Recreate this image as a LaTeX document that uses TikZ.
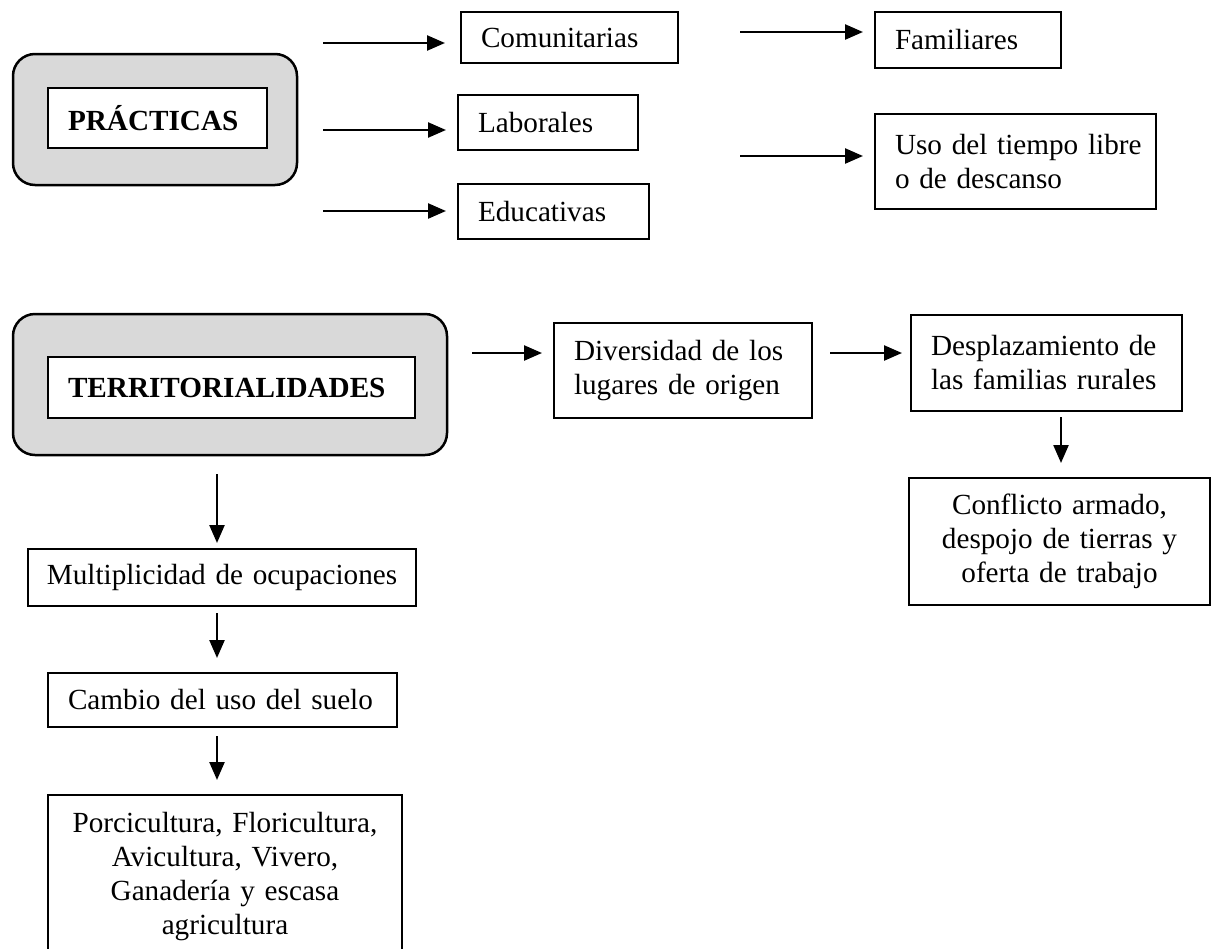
\documentclass[tikz,border=0pt]{standalone}
\usepackage{fontspec}
\setmainfont{Liberation Serif}
\usetikzlibrary{arrows.meta}

\definecolor{grismarco}{HTML}{D9D9D9}

\tikzset{
	marco/.style={draw, fill=grismarco, line width=2.5pt, rounded corners=22pt, inner sep=0pt, outer sep=0pt},
	caja/.style={draw, fill=white, line width=1.3pt, inner xsep=20pt, inner ysep=0pt, outer sep=0pt, anchor=north west, align=left},
	cajac/.style={caja, align=center},
	flecha/.style={line width=2.4pt, -{Triangle[length=18pt,width=15pt]}}
}

\begin{document}
\begin{tikzpicture}[x=1pt, y=-1pt, font=\fontsize{29.2}{34}\selectfont]
	\useasboundingbox (0,0) rectangle (1212,948);

	% marcos grises
	\node[marco, minimum width=284pt, minimum height=131pt] (marcoP) at (155,119.5) {};
	\node[marco, minimum width=434pt, minimum height=141pt] (marcoT) at (230,384.5) {};

	\node[caja, text width=179pt, minimum height=60pt] (practicas) at (48,88) {\textbf{PRÁCTICAS}};
	\node[caja, text width=327pt, minimum height=61pt] (territorio) at (48,357) {\textbf{TERRITORIALIDADES}};

	% practicas
	\node[caja, text width=177pt, minimum height=51pt] (comunitarias) at (461,12) {Comunitarias};
	\node[caja, text width=140pt, minimum height=55pt] (laborales) at (458,95) {Laborales};
	\node[caja, text width=151pt, minimum height=55pt] (educativas) at (458,184) {Educativas};
	\node[caja, text width=146pt, minimum height=56pt] (familiares) at (875,12) {Familiares};
	\node[caja, text width=241pt, minimum height=95pt] (tiempolibre) at (875,114) {\mbox{Uso del tiempo libre}\\o de descanso};

	% territorialidades
	\node[caja, text width=218pt, minimum height=95pt] (diversidad) at (554,323) {\mbox{Diversidad de los}\\lugares de origen};
	\node[caja, text width=231pt, minimum height=96pt] (desplazamiento) at (911,315) {\mbox{Desplazamiento de}\\las familias rurales};
	\node[cajac, text width=261pt, minimum height=127pt] (conflicto) at (909,478) {Conflicto armado,\\despojo de tierras y\\oferta de trabajo};
	\node[cajac, text width=388pt, inner xsep=0pt, minimum height=57pt] (ocupaciones) at (28,549) {Multiplicidad de ocupaciones};
	\node[caja, text width=309pt, minimum height=54pt] (suelo) at (48,673) {Cambio del uso del suelo};
	\node[cajac, text width=314pt, inner ysep=17pt] (actividades) at (48,795) {Porcicultura, Floricultura,\\Avicultura, Vivero,\\Ganadería y escasa\\agricultura};

	% flechas
	\coordinate (s1) at (323,43);   \coordinate (e1) at (445,43);
	\coordinate (s2) at (323,130);  \coordinate (e2) at (446,130);
	\coordinate (s3) at (323,211);  \coordinate (e3) at (446,211);
	\coordinate (s4) at (740,32);   \coordinate (e4) at (863,32);
	\coordinate (s5) at (740,156);  \coordinate (e5) at (863,156);
	\coordinate (s6) at (472,353);  \coordinate (e6) at (542,353);
	\coordinate (s7) at (830,353);  \coordinate (e7) at (902,353);
	\coordinate (s8) at (1061,417); \coordinate (e8) at (1061,463);
	\coordinate (s9) at (217,474);  \coordinate (e9) at (217,543);
	\coordinate (s10) at (217,613); \coordinate (e10) at (217,658);
	\coordinate (s11) at (217,736); \coordinate (e11) at (217,780);

	\foreach \i in {1, ..., 11}{
			\draw[flecha] (s\i) -- (e\i);
		}
\end{tikzpicture}
\end{document}
